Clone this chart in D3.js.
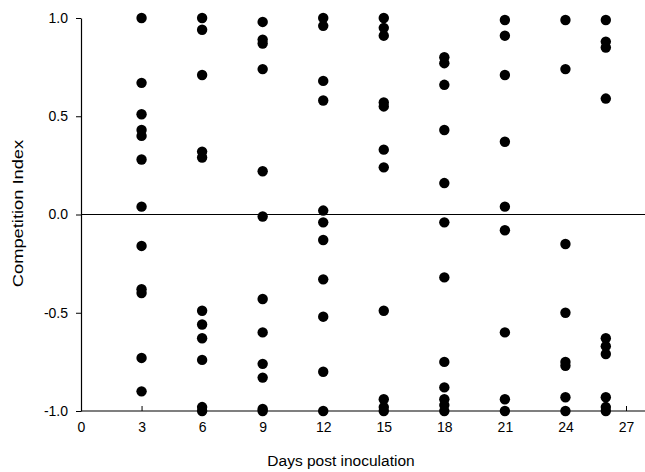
<!DOCTYPE html>
<html><head><meta charset="utf-8">
<script src="https://cdn.jsdelivr.net/npm/d3@7"></script>
<style>body{margin:0;background:#fff}svg{display:block}text{font-family:"Liberation Sans",Arial,sans-serif;fill:#000}</style>
</head><body><svg id="c" width="645" height="472"></svg>
<script>
const days = [3, 6, 9, 12, 15, 18, 21, 24, 26];
const day3  = [1.0, 0.67, 0.51, 0.43, 0.40, 0.28, 0.04, -0.16, -0.38, -0.40, -0.73, -0.90];
const day6  = [1.0, 0.94, 0.71, 0.32, 0.29, -0.49, -0.56, -0.63, -0.74, -0.98, -1.0];
const day9  = [0.98, 0.89, 0.87, 0.74, 0.22, -0.01, -0.43, -0.60, -0.76, -0.83, -0.99, -1.0];
const day12 = [1.0, 0.96, 0.68, 0.58, 0.02, -0.04, -0.13, -0.33, -0.52, -0.80, -1.0];
const day15 = [1.0, 0.95, 0.91, 0.57, 0.55, 0.33, 0.24, -0.49, -0.94, -0.98, -1.0];
const day18 = [0.80, 0.77, 0.66, 0.43, 0.16, -0.04, -0.32, -0.75, -0.88, -0.94, -0.97, -1.0];
const day21 = [0.99, 0.91, 0.71, 0.37, 0.04, -0.08, -0.60, -0.94, -1.0];
const day24 = [0.99, 0.74, -0.15, -0.50, -0.75, -0.77, -0.93, -1.0];
const day26 = [0.99, 0.88, 0.85, 0.59, -0.63, -0.67, -0.71, -0.93, -0.98, -1.0];
const seriesValues = [day3, day6, day9, day12, day15, day18, day21, day24, day26];
const xTicks = [0, 3, 6, 9, 12, 15, 18, 21, 24, 27];
const yTicks = [-1.0, -0.5, 0.0, 0.5, 1.0];

const svg = d3.select("#c");
const x = d3.scaleLinear().domain([0, 27]).range([81, 626]);
const y = d3.scaleLinear().domain([-1, 1]).range([411, 18]);
const fmtY = d => d3.format(".1f")(d).replace("\u2212", "-");

// zero reference line
svg.append("line").attr("x1", x(0)).attr("x2", 645).attr("y1", y(0)).attr("y2", y(0))
  .attr("stroke", "#000").attr("stroke-width", 1.2);

// x axis
const gx = svg.append("g").attr("transform", `translate(0,${y(-1)})`)
  .call(d3.axisBottom(x).tickValues(xTicks).tickFormat(d3.format("d")).tickSizeInner(-5).tickSizeOuter(0).tickPadding(11));
gx.select(".domain").remove();
gx.append("line").attr("x1", x(0)).attr("x2", 645).attr("stroke", "#000").attr("stroke-width", 1.2);
gx.selectAll(".tick line").attr("stroke", "#000");
gx.selectAll("text").attr("font-size", 14).attr("font-family", "Liberation Sans, Arial, sans-serif").attr("fill", "#000");

// y axis
const gy = svg.append("g").attr("transform", `translate(${x(0)},0)`)
  .call(d3.axisLeft(y).tickValues(yTicks).tickFormat(fmtY).tickSizeInner(5).tickSizeOuter(0).tickPadding(8));
gy.select(".domain").attr("stroke", "#000").attr("stroke-width", 1.2);
gy.selectAll("text").attr("font-size", 14).attr("font-family", "Liberation Sans, Arial, sans-serif").attr("fill", "#000");

// points
const pts = [];
days.forEach((d, i) => seriesValues[i].forEach(v => pts.push({d, v})));
svg.append("g").selectAll("circle").data(pts).join("circle")
  .attr("cx", p => x(p.d)).attr("cy", p => y(p.v)).attr("r", 5.2).attr("fill", "#000");

// titles
svg.append("text").attr("x", 341).attr("y", 466).attr("text-anchor", "middle")
  .attr("font-size", 15.5).text("Days post inoculation");
svg.append("text").attr("transform", `translate(23,${y(0) - 1}) rotate(-90) scale(1.18,1)`).attr("text-anchor", "middle")
  .attr("font-size", 15.5).text("Competition Index");
</script></body></html>
